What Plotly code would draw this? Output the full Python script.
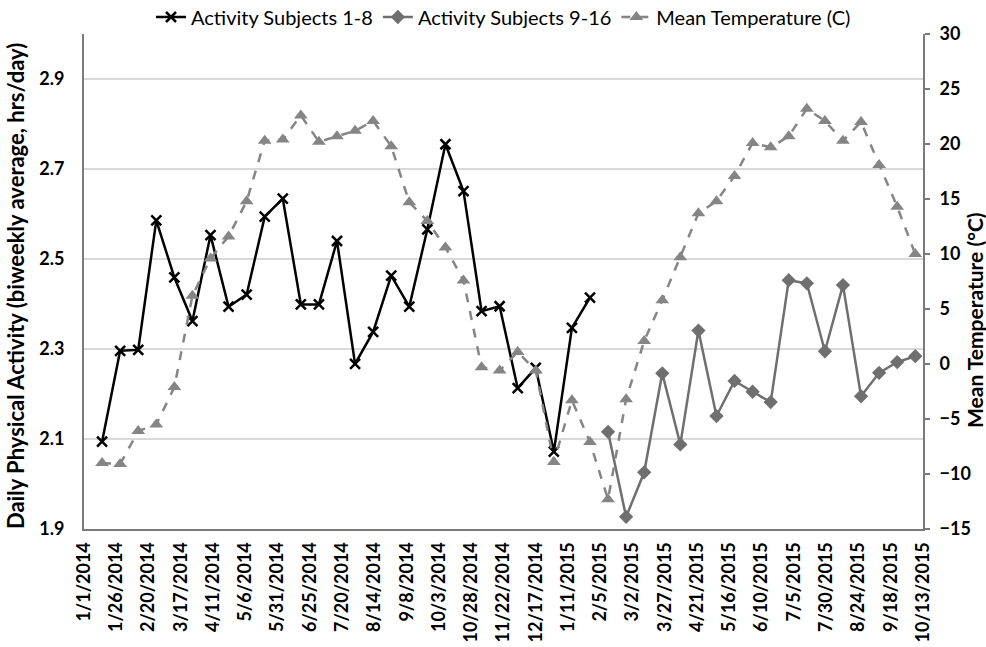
import pandas as pd
import plotly.graph_objects as go

# ---- data ----
dates_all = pd.date_range("2014-01-15", periods=46, freq="14D")

activity_1_8 = [2.094, 2.296, 2.298, 2.586, 2.459, 2.362, 2.553, 2.394, 2.421, 2.594,
                2.634, 2.399, 2.399, 2.540, 2.267, 2.338, 2.463, 2.394, 2.566, 2.755,
                2.651, 2.384, 2.395, 2.213, 2.258, 2.072, 2.347, 2.414]

activity_9_16 = [2.116, 1.927, 2.026, 2.246, 2.088, 2.341, 2.151, 2.229, 2.205, 2.182,
                 2.453, 2.446, 2.295, 2.442, 2.195, 2.247, 2.271, 2.284]

mean_temp = [-9.0, -9.1, -6.1, -5.5, -2.1, 6.2, 9.6, 11.6, 14.8, 20.3,
             20.4, 22.6, 20.2, 20.7, 21.2, 22.1, 19.8, 14.7, 13.0, 10.6,
             7.6, -0.3, -0.6, 1.1, -0.6, -8.9, -3.3, -7.1, -12.3, -3.2,
             2.1, 5.8, 9.7, 13.7, 14.8, 17.1, 20.1, 19.7, 20.7, 23.2,
             22.1, 20.3, 22.0, 18.1, 14.3, 10.0]

dates_1_8 = dates_all[:len(activity_1_8)]
dates_9_16 = dates_all[len(dates_all) - len(activity_9_16):]

FONT = "Lato"
AXIS_COLOR = "#7a7a7a"

fig = go.Figure()

fig.add_trace(go.Scatter(
    x=dates_1_8, y=activity_1_8, name="Activity Subjects 1-8",
    mode="lines+markers",
    line=dict(color="#000000", width=2.5),
    marker=dict(symbol="x-thin", size=10, line=dict(color="#000000", width=2.5)),
    yaxis="y"))

fig.add_trace(go.Scatter(
    x=dates_9_16, y=activity_9_16, name="Activity Subjects 9-16",
    mode="lines+markers",
    line=dict(color="#6f6f6f", width=2.5),
    marker=dict(symbol="diamond", size=11, color="#6f6f6f"),
    yaxis="y"))

fig.add_trace(go.Scatter(
    x=dates_all, y=mean_temp, name="Mean Temperature (C)",
    mode="lines+markers",
    line=dict(color="#858585", width=2.5, dash="dash"),
    marker=dict(symbol="triangle-up", size=12, color="#858585"),
    yaxis="y2"))

PW = 839  # plot width in px
PH = 495  # plot height in px

fig.update_layout(
    width=986, height=647,
    margin=dict(l=84, r=63, t=34, b=118, autoexpand=False),
    paper_bgcolor="white", plot_bgcolor="white",
    font=dict(family=FONT, size=16, color="#000000"),
    showlegend=True,
    legend=dict(orientation="h", x=0.5, xanchor="center", y=1 + 17 / PH, yanchor="middle",
                font=dict(family=FONT, size=20, color="#000000"),
                itemwidth=30, tracegroupgap=0, bgcolor="rgba(0,0,0,0)"),
    xaxis=dict(
        type="date", automargin=False,
        range=["2014-01-01", "2015-10-13"],
        tickmode="linear", tick0="2014-01-01", dtick=25 * 86400000,
        tickformat="%-m/%-d/%Y", tickangle=-90,
        tickfont=dict(family=FONT, size=18, color="#000000", weight="bold"),
        showgrid=False, zeroline=False,
        showline=True, linecolor=AXIS_COLOR, linewidth=2,
        ticks="", ticklabelstandoff=4,
    ),
    yaxis=dict(
        automargin=False,
        range=[1.9, 3.0], tickmode="linear", tick0=1.9, dtick=0.2,
        tickformat=".1f",
        tickfont=dict(family=FONT, size=18, color="#000000", weight="bold"),
        showgrid=True, gridcolor="#d9d9d9", gridwidth=1.5,
        zeroline=False, showline=True, linecolor=AXIS_COLOR, linewidth=2,
        ticks="", ticklabelstandoff=14,
    ),
    yaxis2=dict(
        overlaying="y", side="right", anchor="x", automargin=False,
        range=[-15, 30], tickmode="linear", tick0=-15, dtick=5,
        tickfont=dict(family=FONT, size=18, color="#000000", weight="bold"),
        showgrid=False, zeroline=False,
        showline=True, linecolor=AXIS_COLOR, linewidth=2,
        ticks="outside", ticklen=5, tickcolor=AXIS_COLOR, tickwidth=1.5,
        ticklabelstandoff=6,
    ),
    annotations=[
        dict(text="<b>Daily Physical Activity (biweekly average, hrs/day)</b>",
             xref="paper", yref="paper", x=(15 - 84) / PW, y=(529 - 286) / PH,
             xanchor="center", yanchor="middle", textangle=-90, showarrow=False,
             font=dict(family=FONT, size=22, color="#000000")),
        dict(text="<b>Mean Temperature (°C)</b>",
             xref="paper", yref="paper", x=(974 - 84) / PW, y=(529 - 320) / PH,
             xanchor="center", yanchor="middle", textangle=-90, showarrow=False,
             font=dict(family=FONT, size=21, color="#000000")),
    ],
)

fig.write_html(
    "out.html",
    config={"displayModeBar": False},
    post_script="document.body.style.margin='0';document.body.style.overflow='hidden';",
)
